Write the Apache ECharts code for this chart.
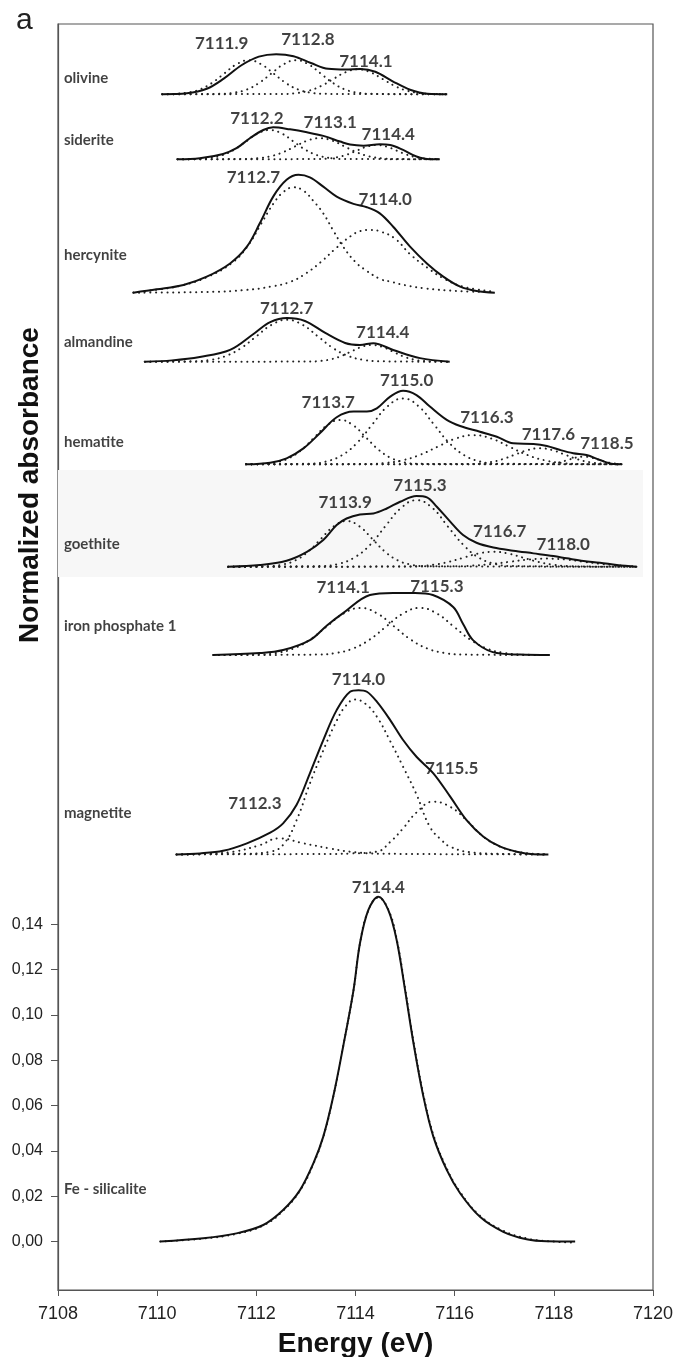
<!DOCTYPE html>
<html><head><meta charset="utf-8">
<script src="https://cdn.jsdelivr.net/npm/echarts@6/dist/echarts.min.js"></script>
<style>html,body{margin:0;padding:0;background:#fff}#c{width:676px;height:1357px}</style>
</head><body><div id="c"></div>
<script>
// ---- axis ----
const xTicks = [7108, 7110, 7112, 7114, 7116, 7118, 7120];
const yTickValues = [0, 0.02, 0.04, 0.06, 0.08, 0.10, 0.12, 0.14];

// ---- samples (intensities in 10^-3 absorbance above each baseline) ----
const sampleNames = ['olivine','siderite','hercynite','almandine','hematite','goethite','iron phosphate 1','magnetite','Fe - silicalite'];
const baselineOffsets = [0.5065, 0.4778, 0.4189, 0.3884, 0.3431, 0.2979, 0.2589, 0.1709, 0];
const nameLabelY = [0.5137, 0.4863, 0.4355, 0.3971, 0.3530, 0.3079, 0.2717, 0.1892, 0.0232];

const olivineTotal = [[7110.1,0],[7110.6,0.4],[7111.0,2.4],[7111.35,7.0],[7111.7,12.8],[7112.05,16.6],[7112.4,17.7],[7112.75,16.8],[7113.1,13.8],[7113.45,11.2],[7113.8,10.9],[7114.1,11.1],[7114.4,9.9],[7114.75,5.7],[7115.1,2.0],[7115.45,0.2],[7115.85,0]];
const olivineFit1 = [[7110.1,0],[7110.35,0.17],[7110.6,0.66],[7110.85,2.0],[7111.1,4.9],[7111.35,9.1],[7111.6,13.2],[7111.85,15.0],[7112.1,13.2],[7112.35,9.1],[7112.6,4.9],[7112.85,2.0],[7113.1,0.66],[7113.35,0.17],[7115.85,0]];
const olivineFit2 = [[7110.1,0],[7111.3,0.17],[7111.55,0.66],[7111.8,2.0],[7112.05,4.9],[7112.3,9.1],[7112.55,13.2],[7112.8,15.0],[7113.05,13.2],[7113.3,9.1],[7113.55,4.9],[7113.8,2.0],[7114.05,0.66],[7114.3,0.17],[7115.85,0]];
const olivineFit3 = [[7110.1,0],[7112.55,0.12],[7112.8,0.48],[7113.05,1.49],[7113.3,3.57],[7113.55,6.67],[7113.8,9.7],[7114.05,11.0],[7114.3,9.7],[7114.55,6.67],[7114.8,3.57],[7115.05,1.49],[7115.3,0.48],[7115.55,0.12],[7115.85,0]];

const sideriteTotal = [[7110.41,0],[7110.86,0.44],[7111.33,2.34],[7111.6,4.86],[7111.87,9.27],[7112.14,12.9],[7112.34,14.1],[7112.68,13.2],[7113.02,11.9],[7113.35,10.3],[7113.69,7.8],[7113.89,6.5],[7114.16,6.0],[7114.49,6.6],[7114.7,6.3],[7114.96,4.1],[7115.23,1.2],[7115.5,0],[7115.7,0]];
const sideriteFit1 = [[7110.41,0],[7110.83,0.14],[7111.07,0.57],[7111.31,1.75],[7111.55,4.19],[7111.79,7.82],[7112.03,11.38],[7112.27,12.9],[7112.51,11.38],[7112.75,7.82],[7112.99,4.19],[7113.23,1.75],[7113.47,0.57],[7113.71,0.14],[7115.7,0]];
const sideriteFit2 = [[7110.41,0],[7111.78,0.1],[7112.03,0.41],[7112.28,1.26],[7112.53,3.02],[7112.78,5.64],[7113.03,8.21],[7113.28,9.3],[7113.53,8.21],[7113.78,5.64],[7114.03,3.02],[7114.28,1.26],[7114.53,0.41],[7114.78,0.1],[7115.7,0]];
const sideriteFit3 = [[7110.41,0],[7113.23,0.07],[7113.43,0.28],[7113.63,0.85],[7113.83,2.05],[7114.03,3.82],[7114.23,5.56],[7114.43,6.3],[7114.63,5.56],[7114.83,3.82],[7115.03,2.05],[7115.23,0.85],[7115.43,0.28],[7115.7,0]];

const hercyniteTotal = [[7109.52,0],[7109.99,1.46],[7110.53,3.4],[7111.0,7.06],[7111.47,12.9],[7111.81,20.3],[7112.07,30.6],[7112.34,42.4],[7112.61,49.8],[7112.85,52.0],[7113.08,50.9],[7113.35,46.8],[7113.62,42.4],[7113.96,39.2],[7114.23,37.7],[7114.49,35.0],[7114.76,29.1],[7115.1,20.3],[7115.44,12.9],[7115.77,7.06],[7116.11,2.65],[7116.44,0.75],[7116.81,0]];
const hercyniteFit1 = [[7109.52,0.1],[7110.0,1.3],[7110.5,3.2],[7111.0,6.8],[7111.5,13.0],[7111.8,19.8],[7112.1,30.5],[7112.35,39.5],[7112.55,44.5],[7112.75,46.5],[7112.95,45.0],[7113.15,40.5],[7113.35,35.0],[7113.55,27.5],[7113.75,20.3],[7114.0,13.5],[7114.2,10.0],[7114.5,6.0],[7114.7,4.9],[7115.0,3.3],[7115.4,1.9],[7116.0,0.8],[7116.81,0.2]];
const hercyniteFit2 = [[7109.52,0],[7111.0,0.3],[7111.8,1.2],[7112.3,2.7],[7112.7,4.9],[7113.0,8.5],[7113.3,13.5],[7113.6,19.5],[7113.9,24.9],[7114.1,27.2],[7114.29,27.7],[7114.5,27.0],[7114.8,23.8],[7115.1,17.0],[7115.45,11.0],[7115.8,6.0],[7116.2,2.5],[7116.81,0.4]];

const almandineTotal = [[7109.75,0],[7110.3,0.6],[7110.86,2.1],[7111.47,5.2],[7111.97,12.7],[7112.28,17.5],[7112.62,19.3],[7112.98,18.0],[7113.39,12.7],[7113.79,8.3],[7114.09,7.4],[7114.36,8.2],[7114.76,5.2],[7115.3,1.6],[7115.9,0]];
const almandineFit1 = [[7109.75,0],[7110.76,0.21],[7111.07,0.81],[7111.38,2.5],[7111.69,6.0],[7112.0,11.22],[7112.31,16.33],[7112.62,18.5],[7112.93,16.33],[7113.24,11.22],[7113.55,6.0],[7113.86,2.5],[7114.17,0.81],[7114.48,0.21],[7115.9,0]];
const almandineFit2 = [[7109.75,0],[7113.07,0.08],[7113.28,0.32],[7113.49,1.0],[7113.7,2.4],[7113.91,4.49],[7114.12,6.53],[7114.33,7.4],[7114.54,6.53],[7114.75,4.49],[7114.96,2.4],[7115.17,1.0],[7115.38,0.32],[7115.59,0.08],[7115.9,0]];

const hematiteTotal = [[7111.79,0],[7112.28,0.75],[7112.61,2.65],[7112.95,7.06],[7113.28,13.7],[7113.62,20.8],[7113.96,23.3],[7114.23,23.3],[7114.43,24.7],[7114.7,29.9],[7114.96,32.5],[7115.23,30.6],[7115.5,25.5],[7115.84,19.6],[7116.11,16.9],[7116.51,14.4],[7116.85,12.2],[7117.18,9.3],[7117.59,9.0],[7117.86,8.1],[7118.13,6.3],[7118.39,4.9],[7118.66,4.1],[7118.93,1.9],[7119.2,0.13],[7119.37,0]];
const hematiteFit1 = [[7111.79,0],[7112.13,0.22],[7112.39,0.86],[7112.65,2.65],[7112.91,6.36],[7113.17,11.89],[7113.43,17.3],[7113.69,19.6],[7113.95,17.3],[7114.21,11.89],[7114.47,6.36],[7114.73,2.65],[7114.99,0.86],[7115.25,0.22],[7119.37,0]];
const hematiteFit2 = [[7111.79,0],[7113.1,0.32],[7113.41,1.28],[7113.72,3.94],[7114.03,9.45],[7114.34,17.65],[7114.65,25.68],[7114.96,29.1],[7115.27,25.68],[7115.58,17.65],[7115.89,9.45],[7116.2,3.94],[7116.51,1.28],[7116.82,0.32],[7119.37,0]];
const hematiteFit3 = [[7111.79,0],[7114.22,0.14],[7114.58,0.57],[7114.94,1.75],[7115.3,4.19],[7115.66,7.82],[7116.02,11.38],[7116.38,12.9],[7116.74,11.38],[7117.1,7.82],[7117.46,4.19],[7117.82,1.75],[7118.18,0.57],[7118.54,0.14],[7119.37,0]];
const hematiteFit4 = [[7111.79,0],[7116.22,0.08],[7116.47,0.31],[7116.72,0.96],[7116.97,2.31],[7117.22,4.31],[7117.47,6.27],[7117.72,7.1],[7117.97,6.27],[7118.22,4.31],[7118.47,2.31],[7118.72,0.96],[7118.97,0.31],[7119.22,0.08],[7119.37,0]];
const hematiteFit5 = [[7111.79,0],[7117.85,0.15],[7118.0,0.46],[7118.15,1.1],[7118.3,2.06],[7118.45,3.0],[7118.6,3.4],[7118.75,3.0],[7118.9,2.06],[7119.05,1.1],[7119.2,0.46],[7119.37,0.1]];

const goethiteTotal = [[7111.43,0],[7112.07,0.75],[7112.61,2.65],[7113.02,6.6],[7113.35,11.8],[7113.62,18.4],[7113.82,21.3],[7114.09,23.1],[7114.36,23.5],[7114.63,25.7],[7114.9,28.7],[7115.23,31.2],[7115.44,30.6],[7115.64,26.5],[7115.91,19.9],[7116.17,14.0],[7116.44,10.6],[7116.78,8.5],[7117.18,7.1],[7117.59,5.9],[7117.99,4.7],[7118.26,3.7],[7118.6,2.5],[7118.93,1.8],[7119.27,0.75],[7119.67,0]];
const goethiteFit1 = [[7111.43,0],[7112.26,0.22],[7112.52,0.89],[7112.78,2.73],[7113.04,6.56],[7113.3,12.25],[7113.56,17.83],[7113.82,20.2],[7114.08,17.83],[7114.34,12.25],[7114.6,6.56],[7114.86,2.73],[7115.12,0.89],[7115.38,0.22],[7119.67,0]];
const goethiteFit2 = [[7111.43,0],[7113.34,0.33],[7113.66,1.29],[7113.97,3.98],[7114.29,9.55],[7114.6,17.83],[7114.92,25.95],[7115.23,29.4],[7115.55,25.95],[7115.86,17.83],[7116.18,9.55],[7116.49,3.98],[7116.81,1.29],[7117.12,0.33],[7119.67,0]];
const goethiteFit3 = [[7111.43,0],[7114.98,0.07],[7115.28,0.29],[7115.58,0.89],[7115.88,2.14],[7116.18,4.0],[7116.48,5.82],[7116.78,6.6],[7117.08,5.82],[7117.38,4.0],[7117.68,2.14],[7117.98,0.89],[7118.28,0.29],[7118.58,0.07],[7119.67,0]];
const goethiteFit4 = [[7111.43,0],[7115.99,0.16],[7116.36,0.49],[7116.74,1.17],[7117.11,2.18],[7117.49,3.18],[7117.86,3.6],[7118.24,3.18],[7118.61,2.18],[7118.99,1.17],[7119.36,0.49],[7119.67,0.2]];

const ironPhosphateTotal = [[7111.13,0],[7112.07,0.88],[7112.54,2.2],[7113.08,6.6],[7113.43,13.2],[7113.75,18.5],[7114.29,26.5],[7114.76,27.4],[7115.2,27.4],[7115.56,26.5],[7115.97,21.2],[7116.17,13.7],[7116.37,6.6],[7116.77,1.3],[7117.32,0.2],[7117.92,0]];
const ironPhosphateFit1 = [[7111.13,0],[7112.06,0.23],[7112.4,0.91],[7112.74,2.81],[7113.08,6.75],[7113.42,12.62],[7113.76,18.36],[7114.1,20.8],[7114.44,18.36],[7114.78,12.62],[7115.12,6.75],[7115.46,2.81],[7115.8,0.91],[7116.14,0.23],[7117.92,0]];
const ironPhosphateFit2 = [[7111.13,0],[7113.26,0.23],[7113.6,0.91],[7113.94,2.81],[7114.28,6.75],[7114.62,12.62],[7114.96,18.36],[7115.3,20.8],[7115.64,18.36],[7115.98,12.62],[7116.32,6.75],[7116.66,2.81],[7117.0,0.91],[7117.34,0.23],[7117.92,0]];

const magnetiteTotal = [[7110.39,0],[7110.86,0.44],[7111.33,1.6],[7111.81,4.9],[7112.28,9.6],[7112.54,13.7],[7112.81,21.8],[7113.08,35.8],[7113.35,50.5],[7113.62,63.7],[7113.89,71.8],[7114.06,72.5],[7114.23,71.8],[7114.43,67.4],[7114.7,59.3],[7114.96,50.5],[7115.23,43.1],[7115.57,35.8],[7115.91,25.5],[7116.24,15.1],[7116.58,7.8],[7116.92,3.4],[7117.25,1.2],[7117.59,0.1],[7117.89,0]];
const magnetiteFit1 = [[7110.39,0],[7111.0,0.3],[7111.54,1.2],[7112.07,4.1],[7112.45,7.1],[7112.95,4.9],[7113.49,2.6],[7113.89,1.2],[7114.5,0.3],[7117.89,0]];
const magnetiteFit2 = [[7110.39,0],[7111.8,0.3],[7112.3,1.3],[7112.55,4.5],[7112.81,15.0],[7113.08,31.3],[7113.35,45.9],[7113.62,59.0],[7113.8,65.5],[7113.99,68.4],[7114.2,66.5],[7114.43,60.8],[7114.7,50.0],[7114.96,38.7],[7115.23,26.5],[7115.5,12.2],[7115.75,6.0],[7115.91,3.4],[7116.3,1.0],[7117.0,0.2],[7117.89,0]];
const magnetiteFit3 = [[7110.39,0],[7113.5,0.2],[7113.89,0.4],[7114.43,1.2],[7114.7,5.5],[7114.96,11.5],[7115.23,18.5],[7115.57,23.3],[7115.91,21.0],[7116.24,15.1],[7116.58,7.8],[7116.92,3.4],[7117.25,1.2],[7117.59,0.3],[7117.89,0]];

const feSilicaliteTotal = [[7110.06,0],[7110.93,1.4],[7111.6,3.6],[7112.14,7.3],[7112.54,13.9],[7112.88,22.7],[7113.15,34.5],[7113.35,46.3],[7113.55,63.9],[7113.75,86.0],[7113.96,111.0],[7114.09,131.7],[7114.26,146.4],[7114.46,152.2],[7114.66,146.4],[7114.83,133.1],[7115.0,111.0],[7115.17,87.5],[7115.37,63.9],[7115.57,46.3],[7115.84,31.6],[7116.11,21.3],[7116.51,10.9],[7116.98,4.3],[7117.45,1.0],[7117.86,0.1],[7118.43,0]];
const feSilicaliteFit1 = [[7110.06,0],[7110.93,1.3],[7111.6,3.4],[7112.14,7.1],[7112.54,13.6],[7112.88,22.5],[7113.15,34.3],[7113.35,46.2],[7113.55,63.8],[7113.75,86.0],[7113.96,111.0],[7114.09,131.5],[7114.26,146.2],[7114.46,151.8],[7114.66,146.6],[7114.83,133.6],[7115.0,111.8],[7115.17,88.3],[7115.37,64.8],[7115.57,47.2],[7115.84,32.3],[7116.11,21.9],[7116.51,11.4],[7116.98,4.8],[7117.45,1.4],[7117.86,0.2],[7118.43,-0.5]];

// peak annotations: [energy, absolute absorbance, text]
const olivineLabels = [[7111.30,0.5290,'7111.9'],[7113.04,0.5305,'7112.8'],[7114.21,0.5209,'7114.1']];
const sideriteLabels = [[7112.01,0.4959,'7112.2'],[7113.49,0.4940,'7113.1'],[7114.66,0.4885,'7114.4']];
const hercyniteLabels = [[7111.94,0.4697,'7112.7'],[7114.60,0.4598,'7114.0']];
const almandineLabels = [[7112.61,0.4120,'7112.7'],[7114.55,0.4011,'7114.4']];
const hematiteLabels = [[7113.45,0.3703,'7113.7'],[7115.03,0.3800,'7115.0'],[7116.65,0.3639,'7116.3'],[7117.89,0.3564,'7117.6'],[7119.07,0.3521,'7118.5']];
const goethiteLabels = [[7113.79,0.3262,'7113.9'],[7115.30,0.3336,'7115.3'],[7116.91,0.3134,'7116.7'],[7118.19,0.3075,'7118.0']];
const ironPhosphateLabels = [[7113.75,0.2888,'7114.1'],[7115.64,0.2891,'7115.3']];
const magnetiteLabels = [[7114.06,0.2479,'7114.0'],[7115.94,0.2089,'7115.5'],[7111.97,0.1935,'7112.3']];
const feSilicaliteLabels = [[7114.46,0.1561,'7114.4']];

const totals = [olivineTotal, sideriteTotal, hercyniteTotal, almandineTotal, hematiteTotal, goethiteTotal, ironPhosphateTotal, magnetiteTotal, feSilicaliteTotal];
const fits = [
  [olivineFit1, olivineFit2, olivineFit3],
  [sideriteFit1, sideriteFit2, sideriteFit3],
  [hercyniteFit1, hercyniteFit2],
  [almandineFit1, almandineFit2],
  [hematiteFit1, hematiteFit2, hematiteFit3, hematiteFit4, hematiteFit5],
  [goethiteFit1, goethiteFit2, goethiteFit3, goethiteFit4],
  [ironPhosphateFit1, ironPhosphateFit2],
  [magnetiteFit1, magnetiteFit2, magnetiteFit3],
  [feSilicaliteFit1]
];
const peakLabels = [].concat(olivineLabels, sideriteLabels, hercyniteLabels, almandineLabels, hematiteLabels, goethiteLabels, ironPhosphateLabels, magnetiteLabels, feSilicaliteLabels);

// ---- build ----
const toAbs = (curve, off) => curve.map(p => [p[0], off + p[1] / 1000]);
const series = [];
fits.forEach((group, i) => {
  group.forEach((c, j) => {
    series.push({
      type: 'line', name: sampleNames[i] + ' fit ' + (j + 1), data: toAbs(c, baselineOffsets[i]),
      showSymbol: false, smooth: 0.45, silent: true, z: 2,
      lineStyle: { color: '#222', width: 2, type: [0.1, 5.6], cap: 'round' }
    });
  });
});
totals.forEach((c, i) => {
  const s = {
    type: 'line', name: sampleNames[i], data: toAbs(c, baselineOffsets[i]),
    showSymbol: false, smooth: 0.35, silent: true, z: 3,
    lineStyle: { color: '#111', width: 2 }
  };
  if (sampleNames[i] === 'goethite') {
    s.markArea = { silent: true, itemStyle: { color: '#f7f7f7' },
      data: [[{ xAxis: 7108, yAxis: 0.2934 }, { xAxis: 7119.8, yAxis: 0.3406 }]] };
  }
  series.push(s);
});
series.push({
  type: 'scatter', name: 'peaks', symbolSize: 0, silent: true, z: 5,
  data: peakLabels.map(p => ({ value: [p[0], p[1]], name: p[2] })),
  label: { show: true, position: 'inside', formatter: p => p.name,
    fontFamily: 'Lato', fontWeight: 'bold', fontSize: 17, color: '#111' }
});
series.push({
  type: 'scatter', name: 'samples', symbolSize: 0, silent: true, z: 5,
  data: sampleNames.map((n, i) => ({ value: [7108.12, nameLabelY[i]], name: n })),
  label: { show: true, position: 'right', distance: 0, align: 'left', formatter: p => p.name,
    fontFamily: 'Lato', fontWeight: 'bold', fontSize: 15, color: '#111' }
});

const chart = echarts.init(document.getElementById('c'), null, { renderer: 'canvas' });
chart.setOption({
  animation: false,
  backgroundColor: '#fff',
  grid: { left: 58, right: 23, top: 24, bottom: 67, show: true, borderColor: '#555', borderWidth: 1.2,
    outerBoundsMode: 'none', containLabel: false },
  xAxis: {
    type: 'value', min: xTicks[0], max: xTicks[xTicks.length - 1], interval: 2,
    axisLine: { onZero: false, lineStyle: { color: '#555', width: 1.2 } },
    axisTick: { show: true, length: 6, lineStyle: { color: '#555' } },
    splitLine: { show: false },
    axisLabel: { fontFamily: 'Liberation Sans', fontSize: 18, color: '#222', margin: 15,
      formatter: v => String(v) },
    name: 'Energy (eV)', nameLocation: 'middle', nameGap: 40,
    nameTextStyle: { fontFamily: 'Liberation Sans', fontWeight: 'bold', fontSize: 28, color: '#111' }
  },
  yAxis: {
    type: 'value', min: -0.0214, max: 0.5375,
    axisLine: { show: true, onZero: false, lineStyle: { color: '#555', width: 1.2 } },
    axisTick: { show: true, length: 7, customValues: yTickValues, lineStyle: { color: '#555' } },
    splitLine: { show: false },
    axisLabel: { customValues: yTickValues, fontFamily: 'Liberation Sans', fontSize: 16, color: '#222', margin: 15,
      formatter: v => v.toFixed(2).replace('.', ',') }
  },
  graphic: [
    { type: 'text', x: 16, y: 6, style: { text: 'a', font: 'normal 30px "Liberation Sans"', fill: '#222' } },
    { type: 'text', x: 30, y: 485, rotation: Math.PI / 2,
      style: { text: 'Normalized absorbance', font: 'bold 28px "Liberation Sans"', fill: '#111',
        textAlign: 'center', textVerticalAlign: 'middle' } }
  ],
  series: series
});
</script></body></html>
